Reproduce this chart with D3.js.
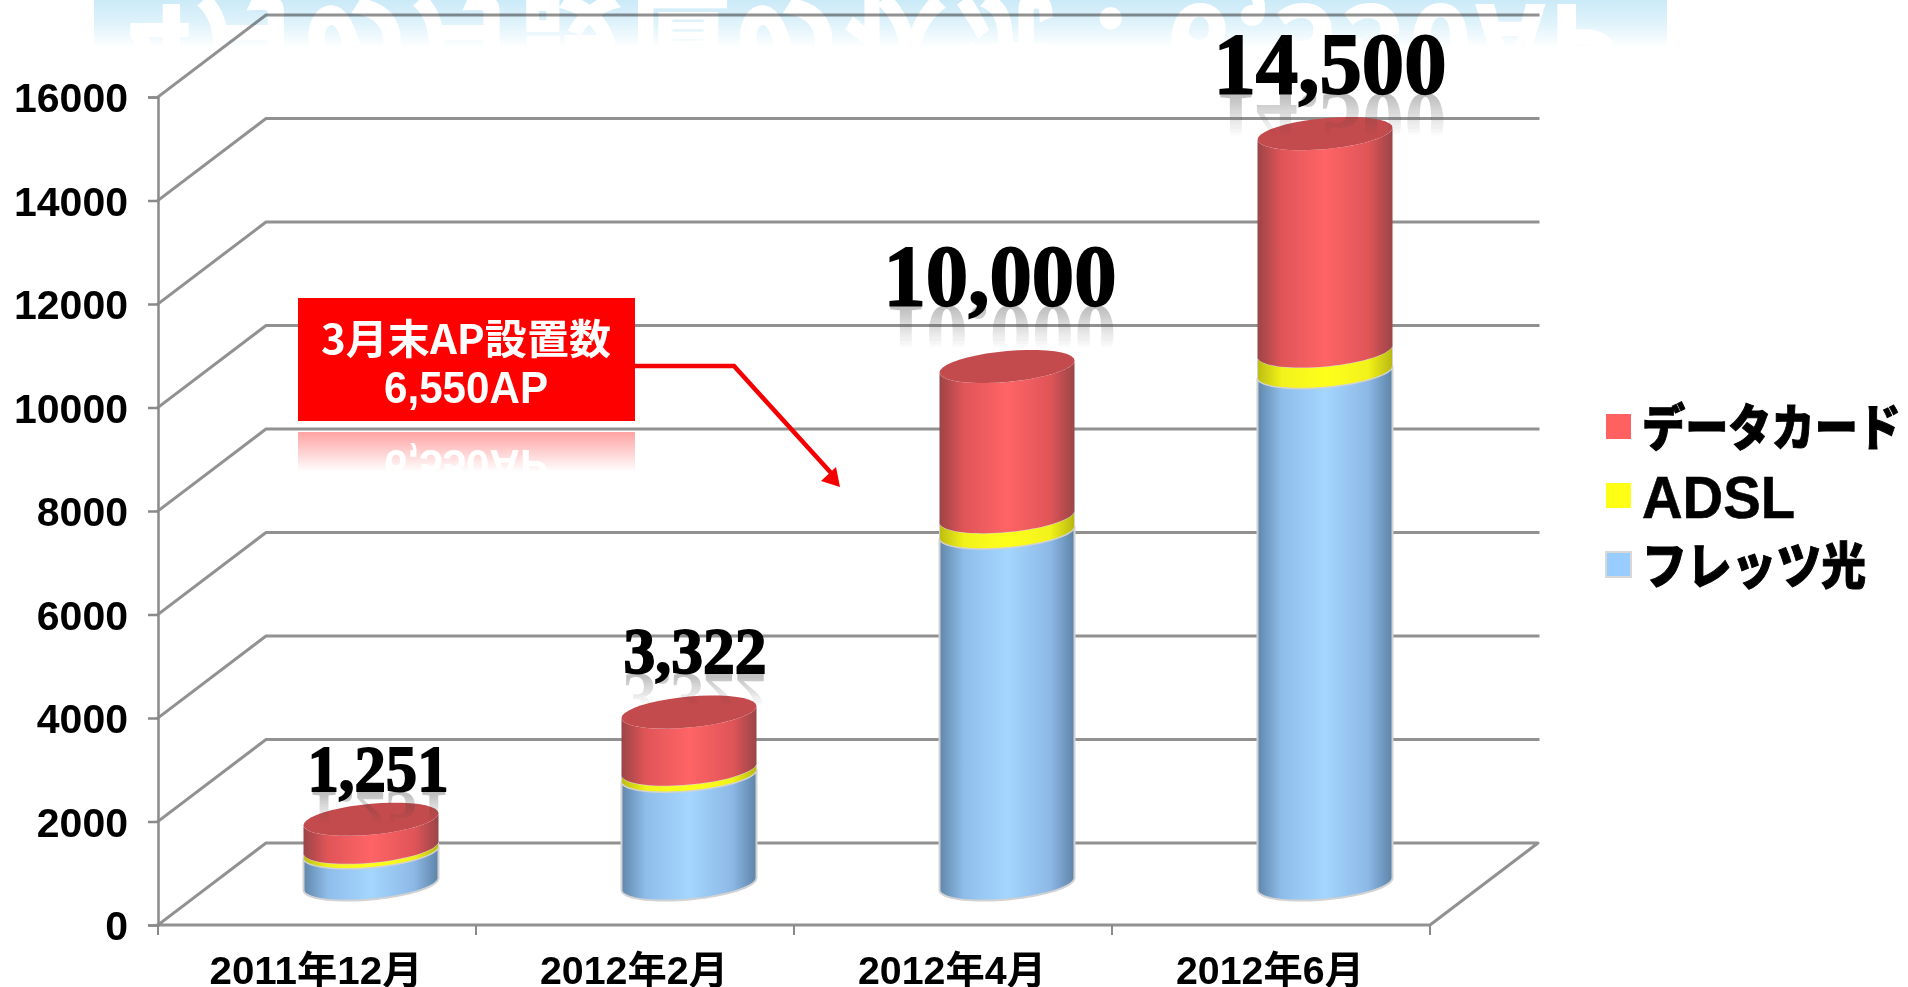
<!DOCTYPE html>
<html><head><meta charset="utf-8">
<script src="https://cdn.jsdelivr.net/npm/d3@7"></script>
<style>html,body{margin:0;padding:0;background:#fff;overflow:hidden}svg{display:block}</style>
</head><body><svg id="c" width="1908" height="987"></svg>
<script>
// ---- data ----
const categories = ["2011年12月","2012年2月","2012年4月","2012年6月"];
const seriesNames = ["フレッツ光","ADSL","データカード"];
const fletsValues = [620,2100,6800,9900];
const adslValues = [90,120,300,400];
const dataCardValues = [541,1102,2900,4200];
const yTicks = [0,2000,4000,6000,8000,10000,12000,14000,16000];
const legendOrder = ["データカード","ADSL","フレッツ光"];
const calloutLines = ["3月末AP設置数","6,550AP"];
const bannerTitle = "4月の月設置の状況：6,550AP";

// ---- layout ----
const W=1908,H=987, plotL=158,plotR=1430,plotT=97,plotB=925, depthX=108,depthY=82;
const svg=d3.select("#c"), defs=svg.append("defs");
const y=d3.scaleLinear().domain([0,16000]).range([plotB,plotT]);
const x=d3.scaleBand().domain(categories).range([plotL,plotR]);
const sans='"Liberation Sans","Noto Sans CJK JP",sans-serif', cjk='"Noto Sans CJK JP",sans-serif', serif='"Liberation Serif",serif';
const rows=categories.map((c,i)=>({cat:c,"フレッツ光":fletsValues[i],"ADSL":adslValues[i],"データカード":dataCardValues[i]}));
const stacked=d3.stack().keys(seriesNames)(rows);
const colours={"フレッツ光":["#5f87aa","#8fbdea","#a4d6ff","#8db8e6","#5d84a8"],"ADSL":["#bdbd10","#f2f21a","#ffff1c","#f2f21a","#b8b810"],"データカード":["#9c4446","#e05558","#ff6466","#e05558","#9a4548"]};
const swatch={"フレッツ光":"#99ccff","ADSL":"#ffff19","データカード":"#ff6060"};

// filters + gradients
defs.append("filter").attr("id","soft").attr("filterUnits","userSpaceOnUse").attr("x",0).attr("y",0).attr("width",W).attr("height",H)
  .append("feGaussianBlur").attr("stdDeviation",0.5);
function vGrad(id,y1,y2,stops){
  const g=defs.append("linearGradient").attr("id",id).attr("gradientUnits","userSpaceOnUse").attr("x1",0).attr("x2",0).attr("y1",y1).attr("y2",y2);
  stops.forEach(s=>g.append("stop").attr("offset",s[0]).attr("stop-color",s[1]).attr("stop-opacity",s[2]===undefined?1:s[2]));
}
function fadeMask(id,y1,y2,a){
  vGrad(id+"g",y1,y2,[[0,"#fff",a],[1,"#fff",0]]);
  defs.append("mask").attr("id",id).attr("maskUnits","userSpaceOnUse").attr("x",0).attr("y",0).attr("width",W).attr("height",H)
    .append("rect").attr("x",0).attr("y",y1).attr("width",W).attr("height",y2-y1).attr("fill",`url(#${id}g)`);
}
seriesNames.forEach((s,i)=>{
  const g=defs.append("linearGradient").attr("id","cyl"+i);
  [0,.18,.5,.82,1].forEach((o,k)=>g.append("stop").attr("offset",o).attr("stop-color",colours[s][k]));
});

const root=svg.append("g").attr("filter","url(#soft)");

// banner with mirrored title
vGrad("bannerFill",0,48,[[0,"#cbeaf8"],[.5,"#e0f3fb"],[1,"#ffffff"]]);
root.append("rect").attr("x",94).attr("y",0).attr("width",1573).attr("height",48).attr("fill","url(#bannerFill)");
root.append("text").attr("transform","translate(128,4) scale(1,-1)")
  .attr("font-family",cjk).attr("font-weight",900).attr("font-size",104).attr("fill","#fff")
  .attr("textLength",1492).attr("lengthAdjust","spacing").text(bannerTitle);

// gridlines: side wall + back wall
const grid=root.append("g").attr("fill","none").attr("stroke","#000").attr("stroke-opacity",.43).attr("stroke-width",3).attr("stroke-linejoin","round").attr("stroke-linecap","square");
const wall=d3.line();
grid.selectAll("path.g").data(yTicks.slice(1)).join("path").attr("class","g")
  .attr("d",v=>wall([[plotL,y(v)],[plotL+depthX,y(v)-depthY],[plotR+depthX,y(v)-depthY]]));
grid.append("path").attr("d",wall([[plotL,y(0)],[plotL+depthX,y(0)-depthY],[plotR+depthX,y(0)-depthY],[plotR,y(0)],[plotL,y(0)]]));

// y axis
const ya=root.append("g").attr("transform",`translate(${plotL},0)`).call(d3.axisLeft(y).tickValues(yTicks).tickSize(10).tickPadding(20).tickFormat(d3.format("d")));
ya.selectAll("path,line").attr("stroke","#8a8a8a").attr("stroke-width",2.5);
ya.selectAll("text").attr("font-family",sans).attr("font-weight",700).attr("font-size",41).attr("fill","#000").attr("dy","0.36em");

// x axis
const edges=categories.map(c=>x(c)).concat([plotR]);
root.append("g").selectAll("line").data(edges).join("line").attr("x1",d=>d).attr("x2",d=>d).attr("y1",plotB).attr("y2",plotB+10).attr("stroke","#8a8a8a").attr("stroke-width",2);
const xLabelW=[213,188,188,188];
root.append("g").selectAll("text").data(categories).join("text")
  .attr("x",d=>x(d)+x.bandwidth()/2-1).attr("y",plotB+59).attr("text-anchor","middle")
  .attr("font-family",sans).attr("font-weight",700).attr("font-size",39).attr("fill","#000")
  .attr("textLength",(d,i)=>xLabelW[i]).attr("lengthAdjust","spacingAndGlyphs").text(d=>d);

// cylinders
const rx=67.5, tilt=6, ry=15.5;
const cxOf=c=>x(c)+x.bandwidth()/2+depthX/2;
const lv=v=>y(v)-depthY/2;
const line=d3.line();
function arc(cx,cy,from,to){
  return d3.range(0,41).map(k=>{const t=from+(to-from)*k/40;return [cx+rx*Math.cos(t),cy-tilt*Math.cos(t)+ry*Math.sin(t)];});
}
const bars=root.append("g");
stacked.forEach((s,i)=>{
  bars.append("g").selectAll("path").data(s).join("path")
   .attr("d",d=>{const c=cxOf(d.data.cat);
     return line(arc(c,lv(d[1]),Math.PI,0).concat(arc(c,lv(d[0]),0,Math.PI)))+"Z";})
   .attr("fill",`url(#cyl${i})`).attr("stroke",i===2?"none":"#d2d2d2").attr("stroke-width",i===0?2:1);
});
const topS=stacked[2];
bars.append("g").selectAll("path").data(topS).join("path")
  .attr("d",d=>line(arc(cxOf(d.data.cat),lv(d[1]),0,2*Math.PI))+"Z").attr("fill","#c34b4e");

// total labels with reflection
const totals=rows.map((r,i)=>d3.sum(seriesNames,s=>r[s]));
const labelFont=[65,65,87,87], labelWidth=[141,143,233,233], labelDx=[7,6,-7,5], labelLift=[28,39,62,41];
const fmt=d3.format(",");
totals.forEach((t,i)=>{
  const c=cxOf(categories[i]), base=lv(t)-labelLift[i], len=labelFont[i]*.5;
  const attrs=sel=>sel.attr("text-anchor","middle").attr("font-family",serif).attr("font-weight",700)
    .attr("font-size",labelFont[i]).attr("textLength",labelWidth[i]).attr("lengthAdjust","spacingAndGlyphs").text(fmt(t));
  fadeMask("lab"+i,base,base+len,.34);
  root.append("g").attr("mask",`url(#lab${i})`).append("text").attr("transform",`translate(${c+labelDx[i]},${base+1}) scale(1,-1)`).attr("fill","#333").call(attrs);
  root.append("text").attr("x",c+labelDx[i]).attr("y",base).attr("fill","#000").attr("stroke","#000").attr("stroke-width",1.8).call(attrs);
});

// callout
const box={x:298,y:298,w:337,h:123}, mirror=2*box.y+2*box.h+11;
function calloutText(g,col){
  g.append("text").attr("x",466).attr("y",354).attr("text-anchor","middle").attr("font-family",cjk).attr("font-weight",700)
   .attr("font-size",41).attr("fill",col).attr("textLength",290).attr("lengthAdjust","spacingAndGlyphs").text(calloutLines[0]);
  g.append("text").attr("x",466).attr("y",403).attr("text-anchor","middle").attr("font-family",sans).attr("font-weight",700)
   .attr("font-size",45).attr("fill",col).attr("textLength",164).attr("lengthAdjust","spacingAndGlyphs").text(calloutLines[1]);
}
fadeMask("boxFade",432,472,1);
const refl=root.append("g").attr("mask","url(#boxFade)").append("g").attr("transform",`translate(0,${mirror}) scale(1,-1)`);
refl.append("rect").attr("x",box.x).attr("y",box.y).attr("width",box.w).attr("height",box.h).attr("fill","#ff0000").attr("opacity",.36);
calloutText(refl,"#fff");
root.append("path").attr("d",line([[box.x+box.w,366],[734,366],[832,474]])).attr("fill","none").attr("stroke","#f40000").attr("stroke-width",4.5);
root.append("path").attr("d",line([[821,481],[836,467],[840,487]])+"Z").attr("fill","#f40000");
root.append("rect").attr("x",box.x).attr("y",box.y).attr("width",box.w).attr("height",box.h).attr("fill","#ff0000");
calloutText(root,"#fff");

// legend
const legendY=d3.scalePoint().domain(legendOrder).range([426.5,564.5]);
const lg=root.append("g");
lg.selectAll("rect").data(legendOrder).join("rect").attr("x",1606).attr("width",25).attr("height",25)
  .attr("y",d=>legendY(d)-12.5).attr("fill",d=>swatch[d]).attr("stroke",d=>d==="フレッツ光"?"#d8d8d8":"none").attr("stroke-width",2);
const legendText={"データカード":{f:cjk,s:50,w:259,dy:19},"ADSL":{f:sans,s:59,w:153,dy:22},"フレッツ光":{f:cjk,s:50,w:224,dy:19}};
lg.selectAll("text").data(legendOrder).join("text").attr("x",1642).attr("y",d=>legendY(d)+legendText[d].dy)
  .attr("font-family",d=>legendText[d].f).attr("font-weight",d=>d==="ADSL"?700:900).attr("font-size",d=>legendText[d].s).attr("fill","#000")
  .attr("stroke","#000").attr("stroke-width",d=>d==="ADSL"?0.6:1)
  .attr("textLength",d=>legendText[d].w).attr("lengthAdjust","spacingAndGlyphs").text(d=>d);
</script></body></html>
